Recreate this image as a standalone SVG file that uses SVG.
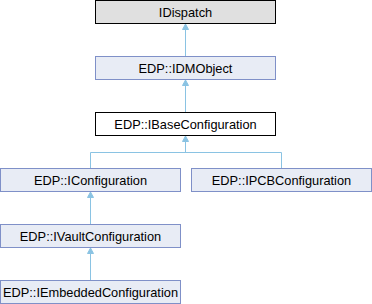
<svg xmlns="http://www.w3.org/2000/svg" width="372" height="304" viewBox="0 0 372 304">
<style>
text{font-family:"Liberation Sans",Arial,sans-serif;font-size:12.8px;fill:#000;text-anchor:middle}
.n{fill:#E8ECF5;stroke:#7F90C8;stroke-width:1}
.e{fill:none;stroke:#8AC3E3;stroke-width:1}
.h{fill:#8AC3E3;stroke:#8AC3E3;stroke-width:1}
</style>
<defs>
<path id="ah" class="h" d="M0,0.5 L-3,6 L3,6 Z"/>
</defs>
<g id="connectors">
<path class="e" d="M185.5,29 V56"/><use href="#ah" x="185.5" y="23.5"/>
<path class="e" d="M185.5,85 V112"/><use href="#ah" x="185.5" y="79.5"/>
<path class="e" d="M185.5,141 V152.5 M90.5,152.5 H281.5 M90.5,152.5 V168 M281.5,152.5 V168"/><use href="#ah" x="185.5" y="135.5"/>
<path class="e" d="M90.5,197 V224"/><use href="#ah" x="90.5" y="191.5"/>
<path class="e" d="M90.5,253 V280"/><use href="#ah" x="90.5" y="247.5"/>
</g>
<g id="IDispatch"><rect x="95.5" y="0.5" width="180" height="23" fill="#E0E0E0" stroke="#000"/><text x="185.5" y="16.5">IDispatch</text></g>
<g id="IDMObject"><rect class="n" x="95.5" y="56.5" width="180" height="23"/><text x="185.5" y="72.5">EDP::IDMObject</text></g>
<g id="IBaseConfiguration"><rect x="95.5" y="112.5" width="180" height="23" fill="#fff" stroke="#000"/><text x="185.5" y="128.5">EDP::IBaseConfiguration</text></g>
<g id="IConfiguration"><rect class="n" x="0.5" y="168.5" width="180" height="23"/><text x="90.5" y="184.5">EDP::IConfiguration</text></g>
<g id="IPCBConfiguration"><rect class="n" x="191.5" y="168.5" width="180" height="23"/><text x="281.5" y="184.5">EDP::IPCBConfiguration</text></g>
<g id="IVaultConfiguration"><rect class="n" x="0.5" y="224.5" width="180" height="23"/><text x="90.5" y="240.5">EDP::IVaultConfiguration</text></g>
<g id="IEmbeddedConfiguration"><rect class="n" x="0.5" y="280.5" width="180" height="23"/><text x="90.5" y="296.5">EDP::IEmbeddedConfiguration</text></g>
</svg>
